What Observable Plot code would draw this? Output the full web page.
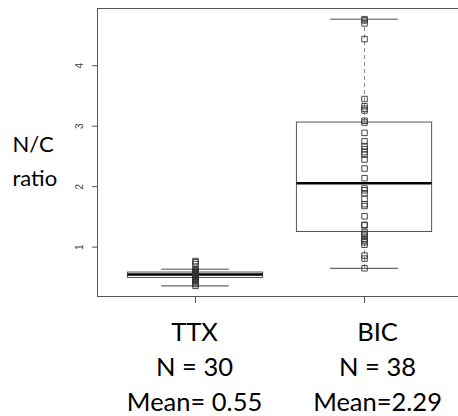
<!DOCTYPE html>
<html>
<head>
<meta charset="utf-8">
<script src="https://cdn.jsdelivr.net/npm/d3@7"></script>
<script src="https://cdn.jsdelivr.net/npm/@observablehq/plot@0.6"></script>
<style>
  html, body { margin: 0; padding: 0; background: #fff; }
</style>
</head>
<body>
<div id="chart"></div>
<script>
// Groups and their tick labels
const groups = ["TTX", "BIC"];
const groupLabels = ["TTX\nN = 30\nMean= 0.55", "BIC\nN = 38\nMean=2.29"];
const yLabel = "N/C\nratio";
const yTicks = [1, 2, 3, 4];

const ttx = [0.36, 0.39, 0.42, 0.44, 0.46, 0.47, 0.48, 0.49, 0.50, 0.51,
             0.52, 0.53, 0.535, 0.54, 0.545, 0.55, 0.555, 0.56, 0.565, 0.57,
             0.575, 0.578, 0.58, 0.59, 0.60, 0.62, 0.635, 0.72, 0.75, 0.77];
const bic = [4.77, 4.75, 4.70, 4.44, 3.45, 3.33, 3.29, 3.26, 3.09, 3.06,
             2.89, 2.75, 2.67, 2.62, 2.57, 2.53, 2.45, 2.30, 2.14, 1.97,
             1.94, 1.89, 1.80, 1.71, 1.68, 1.51, 1.37, 1.36, 1.25, 1.22,
             1.19, 1.14, 1.11, 1.08, 1.04, 0.86, 0.81, 0.65];

const series = [ttx, bic];

// R-style boxplot statistics (fivenum hinges, 1.5 IQR whiskers)
function boxStats(values, i) {
  const s = values.slice().sort((a, b) => a - b);
  const n = s.length;
  const n4 = Math.floor((n + 3) / 2) / 2;
  const d = [1, n4, (n + 1) / 2, n + 1 - n4, n];
  const q = d.map(k => 0.5 * (s[Math.floor(k) - 1] + s[Math.ceil(k) - 1]));
  const iqr = q[3] - q[1];
  const lo = d3.min(s.filter(v => v >= q[1] - 1.5 * iqr));
  const hi = d3.max(s.filter(v => v <= q[3] + 1.5 * iqr));
  return {group: groups[i], pos: i + 1, q1: q[1], med: q[2], q3: q[3], lo, hi};
}
const stats = series.map(boxStats);
const points = series.flatMap((vals, i) => vals.map(v => ({pos: i + 1, value: v})));
const labels = groups.map((g, i) => ({pos: i + 1, text: groupLabels[i]}));

const all = series.flat();
const ymin = d3.min(all), ymax = d3.max(all), yr = ymax - ymin;

const lineCol = "#555";
const whiskCol = "#888";

const chart = Plot.plot({
  width: 458,
  height: 416,
  marginLeft: 97,
  marginRight: 0,
  marginTop: 8,
  marginBottom: 120,
  style: {fontFamily: "Lato", background: "#fff", color: "#222"},
  x: {type: "linear", domain: [0.42, 2.556]},
  y: {domain: [ymin - 0.04 * yr, ymax + 0.04 * yr]},
  marks: [
    Plot.frame({anchor: "left", stroke: lineCol}),
    Plot.frame({anchor: "top", stroke: lineCol}),
    Plot.frame({anchor: "bottom", stroke: lineCol}),
    Plot.axisY({ticks: yTicks, tickSize: 5, tickFormat: () => "", label: null, stroke: lineCol}),
    Plot.text(yTicks, {y: d => d, text: d => String(d), frameAnchor: "left", dx: -15,
      rotate: -90, textAnchor: "middle", lineAnchor: "bottom", fontSize: 10,
      fontFamily: "Liberation Sans", fill: "#444"}),
    Plot.axisX({ticks: [1, 2], tickSize: 7, tickFormat: () => "", label: null, stroke: lineCol}),
    // whiskers
    Plot.ruleX(stats, {x: "pos", y1: "q3", y2: "hi", stroke: whiskCol, strokeDasharray: "4,3"}),
    Plot.ruleX(stats, {x: "pos", y1: "lo", y2: "q1", stroke: whiskCol, strokeDasharray: "4,3"}),
    Plot.ruleY(stats, {y: "hi", x1: d => d.pos - 0.2, x2: d => d.pos + 0.2, stroke: whiskCol, strokeWidth: 1.5}),
    Plot.ruleY(stats, {y: "lo", x1: d => d.pos - 0.2, x2: d => d.pos + 0.2, stroke: "#666", strokeWidth: 1.2}),
    // boxes
    Plot.rect(stats, {x1: d => d.pos - 0.4, x2: d => d.pos + 0.4, y1: "q1", y2: "q3",
      fill: "none", stroke: lineCol, strokeWidth: 1}),
    Plot.ruleY(stats, {y: "med", x1: d => d.pos - 0.4, x2: d => d.pos + 0.4, stroke: "#000", strokeWidth: 2.5}),
    // points
    Plot.dot(points, {x: "pos", y: "value", symbol: "square", r: 3.1, fill: "none",
      stroke: "#333", strokeWidth: 0.9}),
    // group labels below
    Plot.text(labels.filter(d => d.pos === 1), {x: "pos", text: "text", frameAnchor: "bottom",
      lineAnchor: "top", dy: 20, dx: -1, fontSize: 25.5, lineHeight: 1.37, fill: "#000"}),
    Plot.text(labels.filter(d => d.pos === 2), {x: "pos", text: "text", frameAnchor: "bottom",
      lineAnchor: "top", dy: 20, dx: 13, fontSize: 25.5, lineHeight: 1.37, fill: "#000"}),
    // y label
    Plot.text([yLabel], {text: d => d, frameAnchor: "left", dx: -85, dy: 6, textAnchor: "start",
      lineAnchor: "middle", fontSize: 22, lineHeight: 1.55, fill: "#000"})
  ]
});
document.getElementById("chart").appendChild(chart);
</script>
</body>
</html>
